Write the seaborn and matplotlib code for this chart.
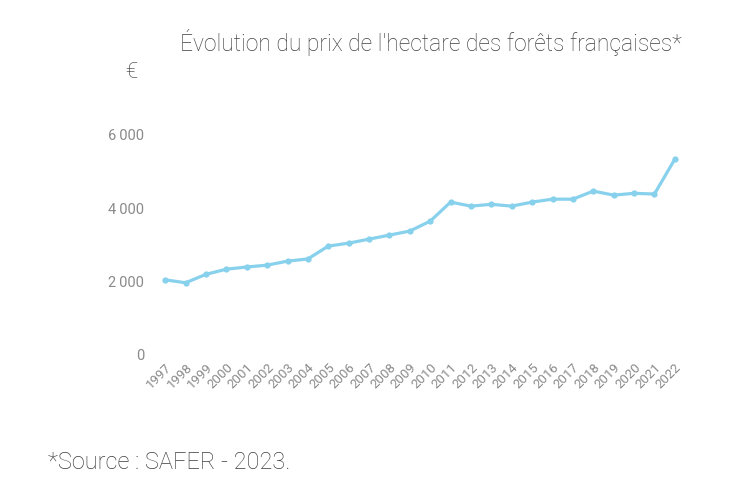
import matplotlib
matplotlib.use("Agg")
import matplotlib.pyplot as plt
import seaborn as sns
import pandas as pd

# data
years = [str(y) for y in range(1997, 2023)]
prices = [2050, 1970, 2200, 2340, 2400, 2450, 2560, 2620, 2970, 3050, 3160, 3270, 3380,
          3650, 4170, 4060, 4110, 4060, 4170, 4250, 4250, 4470, 4360, 4410, 4390, 5340]
y_ticks = [0, 2000, 4000, 6000]
y_labels = ["0", "2\u2009000", "4\u2009000", "6\u2009000"]

sns.set_style("white")
plt.rcParams["font.family"] = ["Roboto", "DejaVu Sans"]

df = pd.DataFrame({"year": years, "price": prices})

fig = plt.figure(figsize=(7.3, 4.84), dpi=100)
ax = fig.add_axes([155 / 730, (484 - 355) / 484, 530 / 730, 220 / 484])

sns.lineplot(data=df, x="year", y="price", ax=ax, color="#88d1ec", linewidth=2.3,
             marker="o", markersize=4.5, markeredgewidth=0, clip_on=False)

ax.set_xlim(-0.5, len(years) - 0.5)
ax.set_ylim(0, 6000)
ax.set_yticks(y_ticks)
ax.set_yticklabels(y_labels)
ax.set_xlabel("")
ax.set_ylabel("")
sns.despine(ax=ax, left=True, bottom=True)
ax.tick_params(axis="y", length=0, pad=8, labelsize=10.5, labelcolor="#8a8a8a")
ax.tick_params(axis="x", length=0, pad=4, labelsize=9.5, labelcolor="#8a8a8a")
for lbl in ax.get_xticklabels():
    lbl.set_rotation(45)
    lbl.set_ha("right")
    lbl.set_rotation_mode("anchor")

fig.text(431 / 730, 1 - 42 / 484, "Évolution du prix de l'hectare des forêts françaises*",
         ha="center", va="center", fontsize=16.5, color="#404040", fontweight="light")
fig.text(131 / 730, 1 - 72 / 484, "€", ha="center", va="center", fontsize=16,
         color="#333333", fontweight="light")
fig.text(48 / 730, 1 - 462 / 484, "*Source : SAFER - 2023.", ha="left", va="center",
         fontsize=17, color="#3c3c3c", fontweight="light")

fig.savefig("out.png", dpi=100)
